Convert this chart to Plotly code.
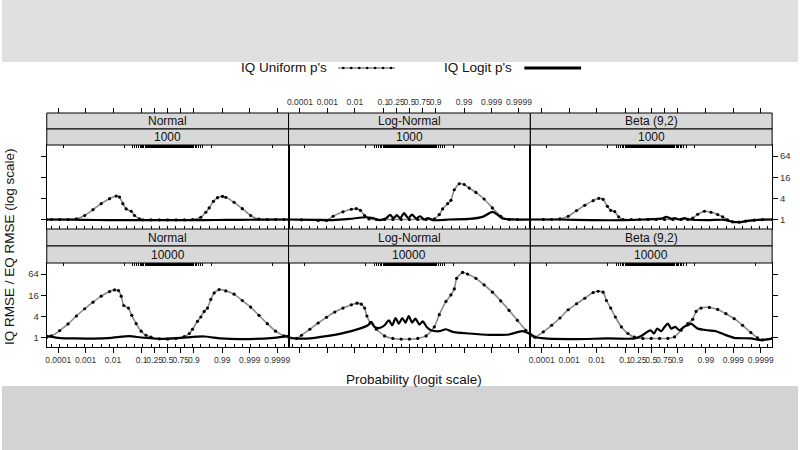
"""
Lattice-style panel chart: IQ RMSE / EQ RMSE against probability (logit scale)
"""

import numpy as np
import plotly.graph_objects as go

# x values are logit(p), y values are the RMSE ratio
normal_1000_unif_x = [-10.2, -9.78, -9.08, -8.38, -7.68, -6.98, -6.28, -5.59, -4.89, -4.33, -4.05, -3.77, -3.49, -3.07, -2.79, -2.37, -2.09, -1.40, -0.70, 0.0, 0.70, 1.40, 2.09, 2.79, 3.21, 3.49, 3.85, 4.19, 4.61, 4.89, 5.59, 6.28, 6.98, 7.68, 8.38, 9.08, 9.78, 10.2]
normal_1000_unif_y = [1.0, 1.0, 1.0, 1.0, 1.04, 1.30, 1.91, 2.83, 3.91, 4.65, 4.36, 2.83, 2.0, 1.72, 1.30, 1.04, 0.98, 0.98, 0.98, 0.98, 0.98, 0.98, 1.0, 1.16, 1.61, 2.14, 3.29, 4.17, 4.55, 4.27, 3.09, 2.04, 1.30, 1.02, 1.0, 1.0, 1.0, 1.0]
normal_1000_logit_x = [-10.2, -8.0, -6.0, -4.0, -2.0, 0.0, 2.0, 4.0, 6.0, 8.0, 10.2]
normal_1000_logit_y = [1.0, 0.99, 0.97, 0.96, 0.96, 0.96, 0.96, 0.97, 0.98, 0.99, 1.0]

lognormal_1000_unif_x = [-10.2, -9.08, -7.68, -6.98, -6.42, -5.59, -4.89, -4.47, -4.13, -3.77, -3.41, -2.79, -2.09, -1.40, -0.70, 0.0, 0.70, 1.40, 2.09, 2.51, 2.79, 3.21, 3.49, 3.77, 4.19, 4.61, 5.03, 5.59, 6.28, 6.98, 7.68, 8.38, 9.08, 10.2]
lognormal_1000_unif_y = [1.0, 0.98, 0.94, 0.94, 1.24, 1.65, 1.96, 2.04, 1.83, 1.30, 1.04, 1.0, 1.0, 1.0, 1.0, 1.0, 1.0, 1.0, 1.04, 1.38, 2.0, 2.83, 3.51, 7.03, 10.4, 9.9, 7.84, 5.91, 3.83, 2.14, 1.24, 1.0, 1.0, 1.0]
lognormal_1000_logit_x = [-10.2, -7.82, -6.42, -5.03, -3.63, -3.07, -2.51, -1.96, -1.62, -1.34, -1.06, -0.78, -0.45, -0.11, 0.22, 0.56, 0.89, 1.23, 1.56, 1.96, 3.35, 5.03, 6.15, 6.98, 7.40, 7.82, 8.94, 10.2]
lognormal_1000_logit_y = [1.0, 0.98, 0.96, 1.04, 1.16, 1.09, 0.96, 1.09, 1.35, 1.09, 1.33, 1.09, 1.51, 1.09, 1.38, 1.07, 1.24, 1.0, 1.09, 0.96, 1.0, 1.04, 1.19, 1.65, 1.38, 1.07, 1.0, 1.0]

beta_1000_unif_x = [-10.2, -9.08, -8.38, -7.68, -6.98, -6.28, -5.59, -4.89, -4.41, -4.05, -3.69, -3.41, -3.07, -2.74, -2.37, -1.68, -0.98, -0.28, 0.42, 1.12, 1.82, 2.51, 3.07, 3.49, 3.91, 4.47, 5.03, 5.59, 6.01, 6.42, 6.84, 7.40, 7.96, 8.66, 9.36, 10.2]
beta_1000_unif_y = [1.0, 1.0, 1.0, 1.04, 1.24, 1.79, 2.54, 3.44, 4.0, 3.75, 2.38, 1.83, 1.68, 1.19, 1.0, 1.0, 1.0, 1.0, 1.0, 1.0, 1.0, 1.0, 1.0, 1.09, 1.41, 1.72, 1.61, 1.38, 1.19, 0.98, 0.86, 0.84, 0.90, 0.96, 0.99, 1.0]
beta_1000_logit_x = [-10.2, -7.82, -5.03, -2.23, -0.56, 0.56, 0.98, 1.26, 1.45, 1.68, 1.96, 2.37, 2.79, 3.21, 4.75, 6.15, 6.84, 7.40, 7.96, 8.94, 10.2]
beta_1000_logit_y = [1.0, 1.0, 0.96, 0.96, 1.0, 1.04, 1.09, 1.19, 1.14, 1.04, 1.09, 1.0, 1.09, 1.0, 0.96, 0.98, 0.86, 0.84, 0.90, 0.98, 1.0]

normal_10000_unif_x = [-10.2, -9.78, -9.08, -8.38, -7.68, -6.98, -6.28, -5.59, -4.89, -4.47, -4.13, -3.91, -3.69, -3.30, -3.02, -2.65, -2.23, -1.82, -1.40, -0.70, 0.0, 0.70, 1.40, 1.82, 2.09, 2.51, 2.79, 3.07, 3.35, 3.63, 3.91, 4.33, 4.89, 5.59, 6.28, 6.98, 7.68, 8.38, 9.08, 9.78, 10.2]
normal_10000_unif_y = [1.0, 1.11, 1.58, 2.43, 4.09, 6.58, 10.1, 15.0, 20.3, 22.6, 21.7, 15.0, 8.15, 6.87, 4.27, 2.48, 1.51, 1.16, 1.02, 0.92, 0.90, 0.94, 1.07, 1.30, 1.72, 2.89, 3.83, 5.53, 6.87, 12.1, 18.6, 23.1, 21.2, 17.1, 11.3, 7.34, 4.27, 2.48, 1.51, 1.11, 1.0]
normal_10000_logit_x = [-10.2, -9.22, -7.82, -5.03, -3.21, -2.23, -0.56, 1.12, 3.07, 4.47, 6.15, 8.94, 10.2]
normal_10000_logit_y = [1.11, 0.98, 0.94, 0.96, 1.09, 1.0, 0.92, 0.98, 1.07, 0.94, 0.90, 0.98, 1.11]

lognormal_10000_unif_x = [-10.2, -9.50, -9.08, -8.38, -7.68, -6.98, -6.28, -5.59, -4.89, -4.41, -4.05, -3.77, -3.58, -3.30, -2.79, -2.09, -1.40, -0.70, 0.0, 0.70, 1.40, 2.09, 2.51, 3.07, 3.49, 3.77, 3.97, 4.47, 4.89, 5.59, 6.28, 6.98, 7.68, 8.38, 9.08, 9.78, 10.2]
lognormal_10000_unif_y = [0.94, 0.94, 1.16, 1.72, 2.59, 3.75, 5.30, 6.87, 8.53, 9.51, 8.9, 6.87, 4.09, 2.65, 1.72, 1.11, 0.94, 0.90, 0.90, 0.94, 1.11, 2.0, 4.46, 10.6, 16.3, 24.1, 48.3, 71.3, 64.0, 48.3, 31.3, 19.5, 11.0, 5.91, 3.09, 1.61, 1.22]
lognormal_10000_logit_x = [-10.2, -9.50, -8.38, -6.98, -5.59, -4.19, -3.49, -3.21, -2.93, -2.51, -2.09, -1.73, -1.45, -1.17, -0.89, -0.61, -0.34, -0.06, 0.22, 0.50, 0.84, 1.12, 1.45, 1.82, 2.51, 3.07, 3.63, 5.03, 6.70, 8.38, 9.50, 10.2]
lognormal_10000_logit_y = [1.0, 0.94, 0.94, 1.09, 1.33, 1.79, 2.23, 2.77, 2.0, 1.87, 2.23, 3.09, 2.23, 3.59, 2.48, 3.59, 2.65, 4.09, 2.65, 3.44, 2.33, 2.89, 2.0, 1.61, 1.51, 1.72, 1.45, 1.30, 1.19, 1.22, 1.51, 1.22]

beta_10000_unif_x = [-10.2, -9.78, -9.08, -8.38, -7.68, -6.98, -6.28, -5.59, -4.89, -4.47, -4.05, -3.77, -3.41, -3.02, -2.51, -1.96, -1.40, -0.70, 0.0, 0.70, 1.40, 1.96, 2.51, 3.07, 3.49, 3.77, 4.19, 4.89, 5.59, 6.28, 6.98, 7.68, 8.38, 8.94, 9.36, 10.2]
beta_10000_unif_y = [1.11, 1.02, 1.45, 2.23, 3.59, 6.17, 9.12, 13.1, 19.0, 20.7, 19.5, 11.3, 6.87, 3.83, 2.0, 1.30, 1.02, 0.94, 0.94, 0.94, 0.94, 1.04, 1.61, 2.48, 3.29, 5.53, 6.87, 7.17, 6.31, 4.76, 3.44, 2.23, 1.38, 0.98, 0.86, 0.94]
beta_10000_logit_x = [-10.2, -9.78, -8.94, -6.42, -3.63, -1.40, -0.84, -0.42, -0.06, 0.22, 0.50, 0.84, 1.12, 1.40, 1.68, 2.01, 2.37, 2.74, 3.07, 3.35, 3.91, 4.75, 5.45, 6.15, 6.98, 8.38, 9.22, 10.2]
beta_10000_logit_y = [1.30, 1.04, 0.94, 0.90, 0.94, 0.94, 1.11, 1.38, 1.61, 1.30, 1.79, 1.51, 2.0, 2.48, 1.79, 2.0, 1.61, 2.0, 2.23, 2.48, 1.79, 1.61, 1.51, 1.22, 0.98, 0.94, 0.84, 0.94]

dist_names = ['Normal', 'Log-Normal', 'Beta (9,2)']
sample_sizes = ['1000', '10000']
prob_ticks = [0.0001, 0.001, 0.01, 0.1, 0.25, 0.5, 0.75, 0.9, 0.99, 0.999, 0.9999]
prob_labels = ['0.0001', '0.001', '0.01', '0.1', '0.25', '0.5', '0.75', '0.9', '0.99', '0.999', '0.9999']
ratio_ticks = [1, 4, 16, 64]
rug_probs = [0.00015, 0.025] + [i / 100 for i in range(5, 96)] + [0.975, 0.99985]

W, H = 800, 450
FONT = 'Liberation Sans, Arial, sans-serif'
UNIF_COLOR = '#8a8a8a'
STRIP_FILL = '#d8d8d8'

# pixel layout of the lattice
COL_X = [(45, 288), (288, 531), (531, 774)]
ROW_Y = [(145, 229), (263, 347)]
STRIP_Y = [((113, 129), (129, 145)), ((229, 246), (246, 263))]
X_RANGE = [-10.17, 10.17]
Y_RANGE = [-0.27, 2.12]


def logit(p):
    p = np.asarray(p, dtype=float)
    return np.log(p / (1 - p))


def px_x(x):
    return x / W


def px_y(y):
    return 1 - y / H


def axis_name(kind, i):
    return kind if i == 1 else f'{kind}{i}'


def build_figure():
    panels = [
        (normal_1000_unif_x, normal_1000_unif_y, normal_1000_logit_x, normal_1000_logit_y),
        (lognormal_1000_unif_x, lognormal_1000_unif_y, lognormal_1000_logit_x, lognormal_1000_logit_y),
        (beta_1000_unif_x, beta_1000_unif_y, beta_1000_logit_x, beta_1000_logit_y),
        (normal_10000_unif_x, normal_10000_unif_y, normal_10000_logit_x, normal_10000_logit_y),
        (lognormal_10000_unif_x, lognormal_10000_unif_y, lognormal_10000_logit_x, lognormal_10000_logit_y),
        (beta_10000_unif_x, beta_10000_unif_y, beta_10000_logit_x, beta_10000_logit_y),
    ]

    fig = go.Figure()
    layout = {}
    shapes = []
    annotations = []
    tick_font = dict(family=FONT, size=8.5, color='#333333')
    next_x = 7

    def add_overlay(spec, ya):
        # empty trace so plotly actually draws the extra axis
        nonlocal next_x
        name = axis_name('x', next_x)
        layout[axis_name('xaxis', next_x)] = spec
        fig.add_trace(go.Scatter(x=[], y=[], xaxis=name, yaxis=ya,
                                 hoverinfo='skip', showlegend=False))
        next_x += 1

    for k, (ux, uy, lx, ly) in enumerate(panels):
        r, c = divmod(k, 3)
        i = k + 1
        xa, ya = axis_name('x', i), axis_name('y', i)
        x0, x1 = COL_X[c]
        y0, y1 = ROW_Y[r]
        xdom = [px_x(x0), px_x(x1)]
        ydom = [px_y(y1), px_y(y0)]

        fig.add_trace(go.Scatter(
            x=ux, y=uy, xaxis=xa, yaxis=ya, mode='lines+markers',
            line=dict(color=UNIF_COLOR, width=1.6, shape='spline', smoothing=0.5),
            marker=dict(color='black', size=3.2),
            hoverinfo='skip'
        ))
        fig.add_trace(go.Scatter(
            x=lx, y=ly, xaxis=xa, yaxis=ya, mode='lines',
            line=dict(color='black', width=2.2, shape='spline', smoothing=0.7),
            hoverinfo='skip'
        ))

        # base axes: panel box + major probability ticks on the bottom row
        layout[axis_name('xaxis', i)] = dict(
            domain=xdom, anchor=ya, range=X_RANGE, showgrid=False, zeroline=False,
            showline=True, mirror=True, linecolor='black', linewidth=1,
            tickmode='array', tickvals=logit(prob_ticks), ticktext=prob_labels,
            ticks='outside' if r == 1 else '', ticklen=5, tickcolor='black',
            showticklabels=(r == 1 and c != 1), tickfont=tick_font, tickangle=0
        )
        y_side = 'right' if c == 2 else 'left'
        layout[axis_name('yaxis', i)] = dict(
            domain=ydom, anchor=xa, type='log', range=Y_RANGE, showgrid=False,
            zeroline=False, showline=True, mirror=True, linecolor='black', linewidth=1,
            side=y_side, tickmode='array', tickvals=ratio_ticks,
            ticktext=[str(t) for t in ratio_ticks],
            ticks='outside' if c != 1 else '', ticklen=5, tickcolor='black',
            showticklabels=(c == 0 and r == 1) or (c == 2 and r == 0),
            tickfont=dict(family=FONT, size=9.5, color='#333333')
        )

        # small evenly spaced marks inside the bottom edge
        add_overlay(dict(
            overlaying=xa, anchor=ya, side='bottom', range=X_RANGE,
            showgrid=False, zeroline=False, showline=False,
            tickmode='linear', tick0=0, dtick=0.7, ticks='inside', ticklen=3,
            tickcolor='black', showticklabels=False
        ), ya)
        # rug of probability grid inside the top edge
        add_overlay(dict(
            overlaying=xa, anchor=ya, side='top', range=X_RANGE,
            showgrid=False, zeroline=False, showline=False,
            tickmode='array', tickvals=logit(rug_probs), ticks='inside', ticklen=3,
            tickcolor='black', tickwidth=1, showticklabels=False
        ), ya)

        # top axis above the strips of the top row
        if r == 0:
            add_overlay(dict(
                overlaying=xa, anchor='free', position=px_y(113), side='top',
                range=X_RANGE, showgrid=False, zeroline=False, showline=False,
                tickmode='array', tickvals=logit(prob_ticks), ticktext=prob_labels,
                ticks='outside', ticklen=5, tickcolor='black',
                showticklabels=(c == 1), tickfont=tick_font, tickangle=0
            ), ya)

        # strips
        (s0, s1), (s2, s3) = STRIP_Y[r]
        for (ta, tb), label in [((s0, s1), dist_names[c]), ((s2, s3), sample_sizes[r])]:
            shapes.append(dict(
                type='rect', xref='paper', yref='paper',
                x0=px_x(x0), x1=px_x(x1), y0=px_y(tb), y1=px_y(ta),
                fillcolor=STRIP_FILL, line=dict(color='black', width=1)
            ))
            annotations.append(dict(
                x=px_x((x0 + x1) / 2), y=px_y((ta + tb) / 2), xref='paper', yref='paper',
                text=label, showarrow=False, xanchor='center', yanchor='middle',
                font=dict(family=FONT, size=12, color='#111111')
            ))

    # blurred video-frame bands
    shapes.insert(0, dict(type='rect', xref='paper', yref='paper', x0=0, x1=1,
                          y0=px_y(62), y1=1, fillcolor='#e0e0e0', line=dict(width=0),
                          layer='below'))
    shapes.insert(0, dict(type='rect', xref='paper', yref='paper', x0=0, x1=1,
                          y0=0, y1=px_y(386), fillcolor='#d3d3d3', line=dict(width=0),
                          layer='below'))

    # legend (text before key, lattice style)
    legend_y = px_y(68)
    legend_font = dict(family=FONT, size=13.5, color='#111111')
    annotations.append(dict(x=px_x(329), y=legend_y, xref='paper', yref='paper',
                            text="IQ Uniform p's", showarrow=False, xanchor='right',
                            yanchor='middle', font=legend_font))
    annotations.append(dict(x=px_x(515), y=legend_y, xref='paper', yref='paper',
                            text="IQ Logit p's", showarrow=False, xanchor='right',
                            yanchor='middle', font=legend_font))
    shapes.append(dict(type='line', xref='paper', yref='paper', x0=px_x(338), x1=px_x(395),
                       y0=legend_y, y1=legend_y, line=dict(color=UNIF_COLOR, width=1.6)))
    for dx in [343, 351, 359, 367, 375, 383, 391]:
        shapes.append(dict(type='circle', xref='paper', yref='paper',
                           x0=px_x(dx - 1.3), x1=px_x(dx + 1.3),
                           y0=legend_y - 1.3 / H, y1=legend_y + 1.3 / H,
                           fillcolor='black', line=dict(width=0)))
    shapes.append(dict(type='line', xref='paper', yref='paper', x0=px_x(525), x1=px_x(582),
                       y0=legend_y, y1=legend_y, line=dict(color='black', width=3)))

    # axis titles
    title_font = dict(family=FONT, size=13.5, color='#111111')
    annotations.append(dict(x=px_x(414), y=px_y(379), xref='paper', yref='paper',
                            text='Probability (logit scale)', showarrow=False,
                            xanchor='center', yanchor='middle', font=title_font))
    annotations.append(dict(x=px_x(8), y=px_y(246), xref='paper', yref='paper',
                            text='IQ RMSE / EQ RMSE (log scale)', showarrow=False,
                            textangle=-90, xanchor='center', yanchor='middle',
                            font=title_font))

    fig.update_layout(
        width=W, height=H,
        margin=dict(l=0, r=0, t=0, b=0),
        paper_bgcolor='white', plot_bgcolor='rgba(0,0,0,0)',
        showlegend=False,
        font=dict(family=FONT, color='#111111'),
        shapes=shapes, annotations=annotations,
        **layout
    )
    return fig


fig = build_figure()
# drop the default page margin so the 800x450 figure fills the window
fig.write_html("out.html", config={'displayModeBar': False},
               post_script="document.body.style.margin='0';")
